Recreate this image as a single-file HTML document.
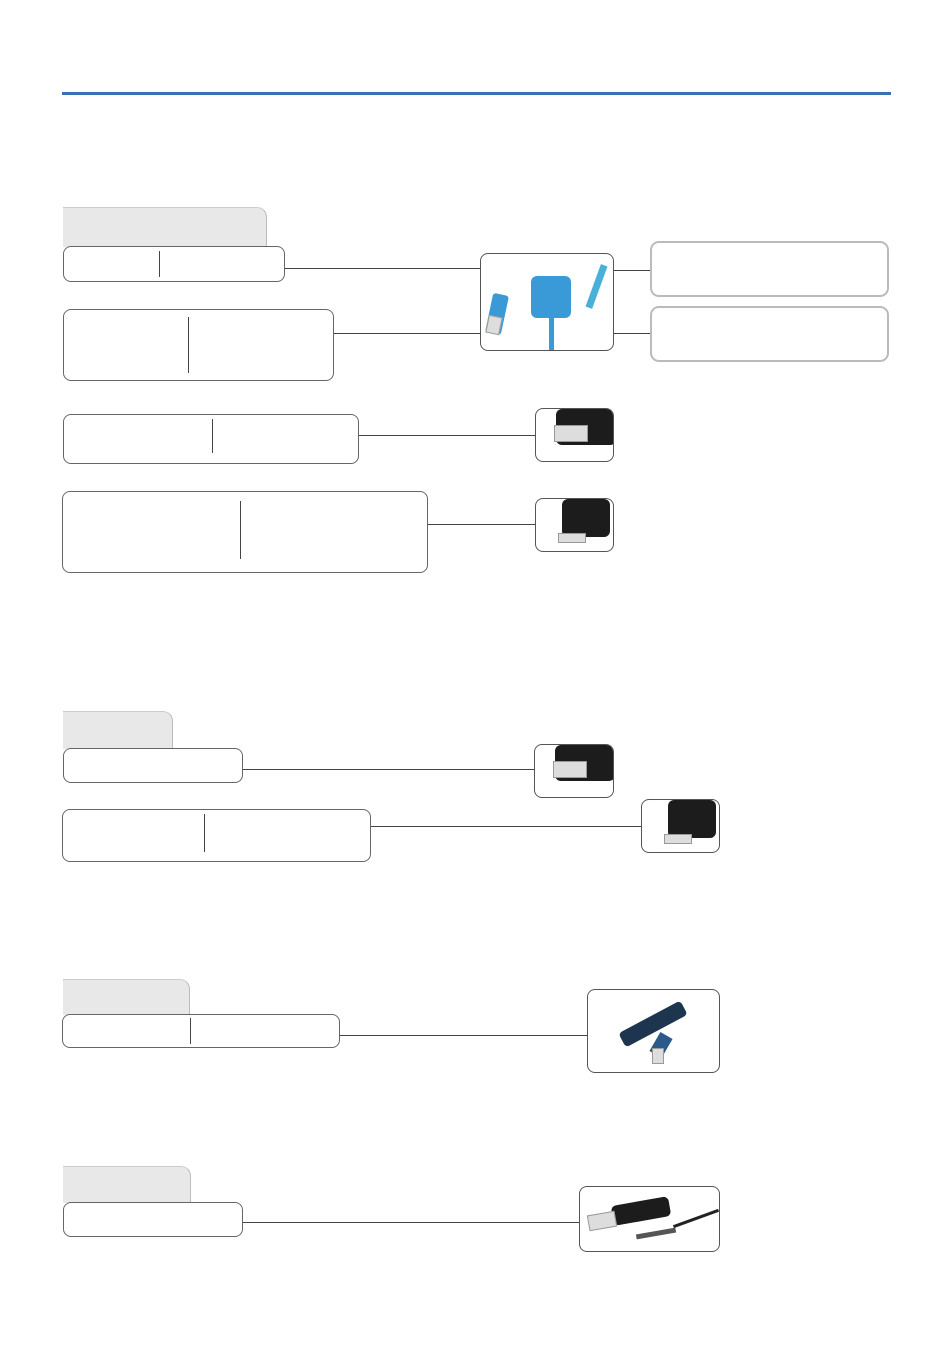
<!DOCTYPE html>
<html><head><meta charset="utf-8"><style>
html,body{margin:0;padding:0;background:#fff;}
body{width:950px;height:1369px;position:relative;overflow:hidden;font-family:"Liberation Sans",sans-serif;}
.a{position:absolute;box-sizing:border-box;}
.tab{background:#e8e8e8;border-top-right-radius:10px;border-right:1px solid #bbb;border-top:1px solid #ccc;}
.box{border:1px solid #666;border-radius:8px;background:#fff;}
.div{width:1px;background:#444;}
.ln{height:1px;background:#444;}
.img{border:1px solid #555;border-radius:8px;background:#fff;overflow:hidden;}
.gb{border:2px solid #bbb;border-radius:9px;background:#fff;}
.blk{background:#1c1c1c;border-radius:6px;}
.usb{background:#ddd;border:1px solid #999;}
</style></head><body>
<div class="a" style="left:62px;top:92px;width:829px;height:3px;background:#3b70b6"></div>

<!-- section 1 -->
<div class="a tab" style="left:63px;top:207px;width:204px;height:40px"></div>
<div class="a box" style="left:63px;top:246px;width:222px;height:36px"></div>
<div class="a div" style="left:159px;top:251px;height:26px"></div>
<div class="a box" style="left:63px;top:309px;width:271px;height:72px"></div>
<div class="a div" style="left:188px;top:317px;height:56px"></div>
<div class="a ln" style="left:285px;top:268px;width:195px"></div>
<div class="a ln" style="left:334px;top:333px;width:146px"></div>
<div class="a img" style="left:480px;top:253px;width:134px;height:98px">
 <div class="a" style="left:50px;top:22px;width:40px;height:42px;background:#3a9ad8;border-radius:6px"></div>
 <div class="a" style="left:8px;top:40px;width:16px;height:40px;background:#3a9ad8;border-radius:3px;transform:rotate(12deg)"></div>
 <div class="a usb" style="left:6px;top:62px;width:14px;height:18px;transform:rotate(12deg)"></div>
 <div class="a" style="left:68px;top:62px;width:5px;height:36px;background:#3a9ad8"></div>
 <div class="a" style="left:112px;top:10px;width:7px;height:45px;background:#4ab0d8;transform:rotate(20deg)"></div>
</div>
<div class="a ln" style="left:614px;top:270px;width:36px"></div>
<div class="a ln" style="left:614px;top:333px;width:36px"></div>
<div class="a gb" style="left:650px;top:241px;width:239px;height:56px"></div>
<div class="a gb" style="left:650px;top:306px;width:239px;height:56px"></div>

<div class="a box" style="left:63px;top:414px;width:296px;height:50px"></div>
<div class="a div" style="left:212px;top:419px;height:34px"></div>
<div class="a ln" style="left:359px;top:435px;width:176px"></div>
<div class="a img" style="left:535px;top:408px;width:79px;height:54px">
 <div class="a blk" style="left:20px;top:0;width:60px;height:36px"></div>
 <div class="a usb" style="left:18px;top:16px;width:34px;height:17px"></div>
</div>

<div class="a box" style="left:62px;top:491px;width:366px;height:82px"></div>
<div class="a div" style="left:240px;top:501px;height:58px"></div>
<div class="a ln" style="left:428px;top:524px;width:107px"></div>
<div class="a img" style="left:535px;top:498px;width:79px;height:54px">
 <div class="a blk" style="left:26px;top:0;width:48px;height:38px"></div>
 <div class="a usb" style="left:22px;top:34px;width:28px;height:10px"></div>
</div>

<!-- section 2 -->
<div class="a tab" style="left:63px;top:711px;width:110px;height:38px"></div>
<div class="a box" style="left:63px;top:748px;width:180px;height:35px"></div>
<div class="a ln" style="left:243px;top:769px;width:291px"></div>
<div class="a img" style="left:534px;top:744px;width:80px;height:54px">
 <div class="a blk" style="left:20px;top:0;width:60px;height:36px"></div>
 <div class="a usb" style="left:18px;top:16px;width:34px;height:17px"></div>
</div>
<div class="a box" style="left:62px;top:809px;width:309px;height:53px"></div>
<div class="a div" style="left:204px;top:814px;height:38px"></div>
<div class="a ln" style="left:371px;top:826px;width:270px"></div>
<div class="a img" style="left:641px;top:799px;width:79px;height:54px">
 <div class="a blk" style="left:26px;top:0;width:48px;height:38px"></div>
 <div class="a usb" style="left:22px;top:34px;width:28px;height:10px"></div>
</div>

<!-- section 3 -->
<div class="a tab" style="left:63px;top:979px;width:127px;height:36px"></div>
<div class="a box" style="left:62px;top:1014px;width:278px;height:34px"></div>
<div class="a div" style="left:190px;top:1018px;height:26px"></div>
<div class="a ln" style="left:340px;top:1035px;width:247px"></div>
<div class="a img" style="left:587px;top:989px;width:133px;height:84px">
 <div class="a" style="left:30px;top:26px;width:70px;height:16px;background:#1e3550;border-radius:4px;transform:rotate(-28deg)"></div>
 <div class="a" style="left:62px;top:48px;width:22px;height:14px;background:#2a5a8a;transform:rotate(-60deg)"></div>
 <div class="a usb" style="left:64px;top:58px;width:12px;height:16px"></div>
</div>

<!-- section 4 -->
<div class="a tab" style="left:63px;top:1166px;width:128px;height:37px"></div>
<div class="a box" style="left:63px;top:1202px;width:180px;height:35px"></div>
<div class="a ln" style="left:243px;top:1222px;width:336px"></div>
<div class="a img" style="left:579px;top:1186px;width:141px;height:66px">
 <div class="a" style="left:32px;top:14px;width:58px;height:20px;background:#1c1c1c;border-radius:5px;transform:rotate(-10deg)"></div>
 <div class="a usb" style="left:8px;top:26px;width:28px;height:16px;transform:rotate(-10deg)"></div>
 <div class="a" style="left:56px;top:44px;width:40px;height:5px;background:#555;transform:rotate(-10deg)"></div>
 <div class="a" style="left:92px;top:30px;width:48px;height:3px;background:#222;transform:rotate(-20deg)"></div>
</div>
</body></html>
